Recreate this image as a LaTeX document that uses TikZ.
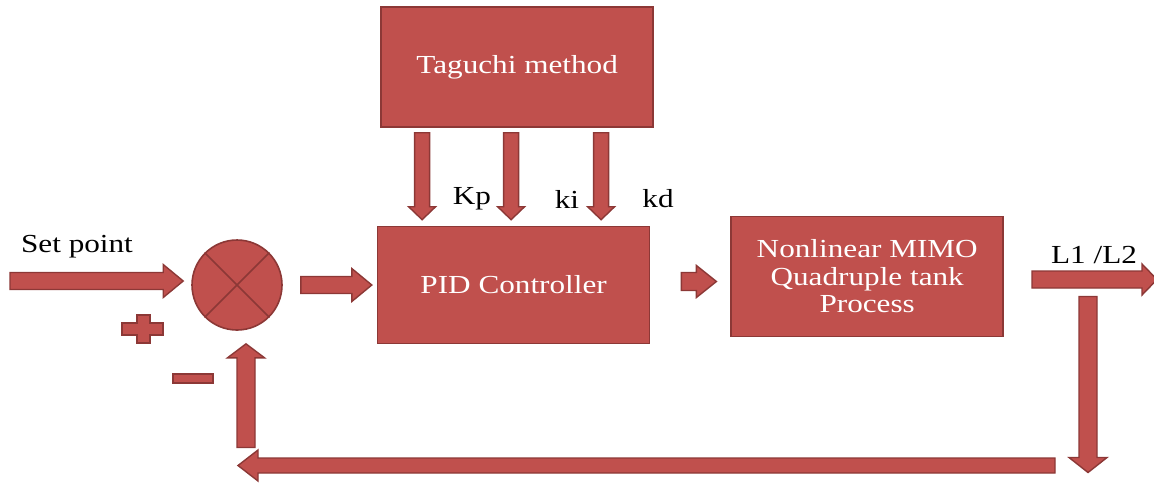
\documentclass[tikz,border=0pt]{standalone}
\usepackage{fontspec}
\setmainfont{Liberation Serif}[FakeStretch=1.2]
\usetikzlibrary{positioning, calc}
\definecolor{boxred}{HTML}{C0504D}
\definecolor{edgered}{HTML}{8C3836}

% fat block arrow from #1 to #2: half shaft, half head, head length
\newcommand{\blockarrow}[5]{%
  \coordinate (ba-base) at ($(#2)!#5!(#1)$);
  \filldraw[flowarrow] ($(#1)!#3!90:(#2)$) -- ($(ba-base)!#3!90:(#2)$)
    -- ($(ba-base)!#4!90:(#2)$) -- (#2) -- ($(ba-base)!#4!-90:(#2)$)
    -- ($(ba-base)!#3!-90:(#2)$) -- ($(#1)!#3!-90:(#2)$) -- cycle;}

\begin{document}
\begin{tikzpicture}[
  x=0.5pt, y=-0.5pt,
  blockbox/.style={rectangle, draw=edgered, line width=0.8pt, fill=boxred,
                   text=white, minimum width=136pt, minimum height=60pt,
                   inner sep=2pt, align=center,
                   font=\fontsize{13}{13.75}\selectfont},
  sumnode/.style={circle, draw=edgered, line width=0.8pt, fill=boxred,
                  minimum size=45pt, inner sep=0pt},
  lbl/.style={font=\fontsize{13}{15}\selectfont, inner sep=0pt},
  flowarrow/.style={draw=edgered, fill=boxred, line width=0.7pt, line join=miter},
  signshape/.style={draw=edgered, fill=boxred, line width=0.6pt}
]
\useasboundingbox (0,0) rectangle (1154,484);

\node[sumnode] (sum) at (237,285) {};
\draw[edgered, line width=0.8pt] (sum.north west) -- (sum.south east)
                                 (sum.north east) -- (sum.south west);
\node[blockbox, minimum height=58.5pt, right=47pt of sum] (pid) {PID Controller};
\node[blockbox, right=40pt of pid, yshift=4.25pt] (proc) {Nonlinear MIMO\\Quadruple tank\\Process};
\node[blockbox, above=49pt of pid, xshift=1.75pt] (tag) {Taguchi method};

% labels
\node[lbl] (setpt) at (77,247) {Set point};
\node[lbl] (kp) at (472,199) {Kp};
\node[lbl] (ki) at (567,199) {ki};
\node[lbl] (kd) at (658,199) {kd};
\node[lbl] (lvl) at (1094,255) {L1 /L2};

% signs
\filldraw[signshape] (137,315) -- (150,315) -- (150,323) -- (163,323) -- (163,335)
  -- (150,335) -- (150,343) -- (137,343) -- (137,335) -- (122,335) -- (122,323)
  -- (137,323) -- cycle;
\filldraw[signshape] (173,374) rectangle (213,383);

% forward path
\coordinate (sp-in) at (10,281);
\coordinate (sp-tip) at ($(sum.west |- sp-in)+(-8,0)$);
\blockarrow{sp-in}{sp-tip}{4.25pt}{8.25pt}{10pt}
\coordinate (s2p-a) at ($(sum.east)+(18,0)$);
\coordinate (s2p-b) at ($(pid.west)+(-5,0)$);
\blockarrow{s2p-a}{s2p-b}{4.25pt}{8.25pt}{10pt}
\coordinate (p2q-a) at ($(pid.east)+(31,-3.5)$);
\coordinate (p2q-b) at ($(proc.west |- p2q-a)+(-14,0)$);
\blockarrow{p2q-a}{p2q-b}{4.5pt}{8pt}{10pt}
\coordinate (out-a) at ($(proc.east)+(28,3)$);
\coordinate (out-b) at ($(out-a)+(125,0)$);
\blockarrow{out-a}{out-b}{4.25pt}{7.75pt}{7.5pt}

% gains
\foreach \dx [count=\i] in {-95,-6,84} {
  \coordinate (k\i-top) at ($(tag.south)+(\dx,5)$);
  \coordinate (k\i-tip) at ($(k\i-top |- pid.north)+(0,-6)$);
  \blockarrow{k\i-top}{k\i-tip}{3.75pt}{6.75pt}{6.5pt}
}

% feedback
\coordinate (fb-a) at ($(proc.east)+(84,20)$);
\coordinate (fb-b) at ($(fb-a)+(0,176)$);
\blockarrow{fb-a}{fb-b}{4.5pt}{9.5pt}{7.5pt}
\coordinate (bt-a) at ($(fb-b)+(-33,-7)$);
\coordinate (bt-b) at ($(sum.south |- bt-a)+(1,0)$);
\blockarrow{bt-a}{bt-b}{3.75pt}{7.75pt}{10pt}
\coordinate (up-a) at ($(sum.south |- bt-a)+(9,-18)$);
\coordinate (up-b) at ($(sum.south)+(9,13)$);
\blockarrow{up-a}{up-b}{4.5pt}{9.25pt}{7pt}
\end{tikzpicture}
\end{document}
